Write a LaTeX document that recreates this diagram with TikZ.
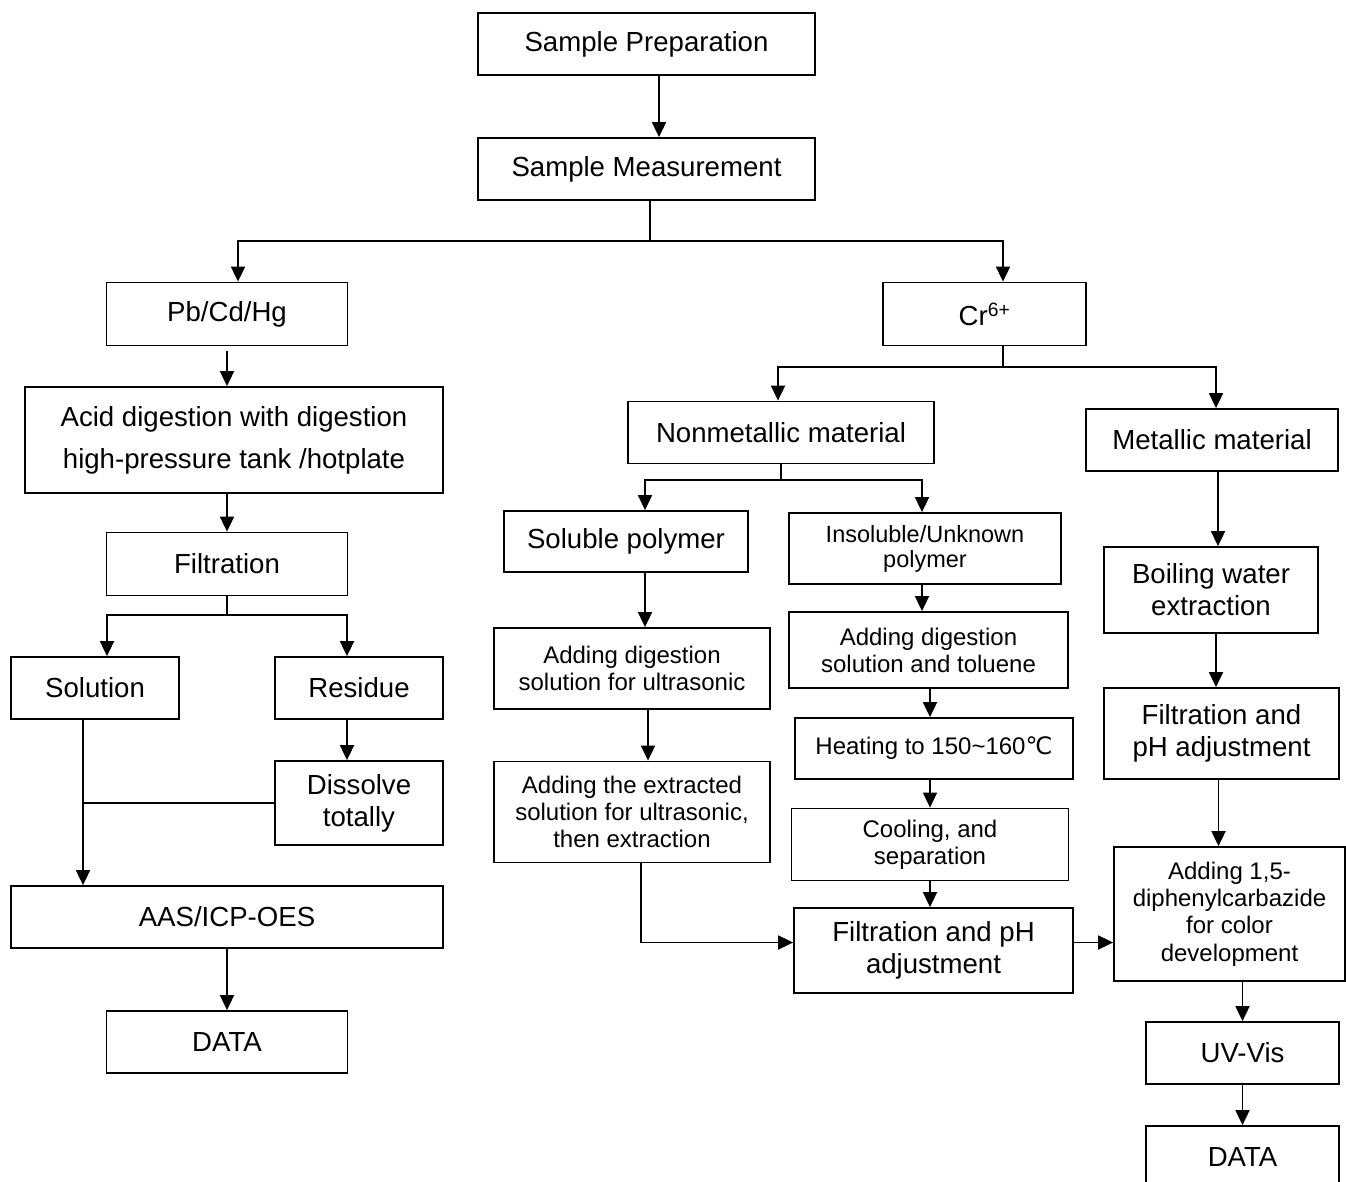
\documentclass[tikz,border=0pt]{standalone}
\usepackage{fontspec}
\setmainfont{Liberation Sans}
\newfontfamily\dejavu{DejaVu Sans}
\usetikzlibrary{arrows.meta}

\begin{document}
\begin{tikzpicture}[x=1pt,y=-1pt,line width=1.8pt,
  box/.style={draw,rectangle,inner sep=0pt,align=center,font=\fontsize{27.6}{32}\selectfont},
  small/.style={font=\fontsize{24}{27}\selectfont},
  sz/.style 2 args={minimum width=#1pt,minimum height=#2pt},
  arr/.style={-{Triangle[length=15pt,width=14pt]}}]
\useasboundingbox (0,0) rectangle (1346,1182);

\node[box,sz={337}{62}] (prep) at (646.5,44) {Sample Preparation};
\node[box,sz={337}{62}] (meas) at (646.5,169) {Sample Measurement};
\node[box,sz={241}{63}] (pb) at (227,314) {Pb/Cd/Hg};
\node[box,sz={203}{63}] (cr) at (984.5,314) {Cr\textsuperscript{6+}};
\node[box,sz={418}{106},font=\fontsize{27.6}{42}\selectfont] (acid) at (234,440) {Acid digestion with digestion\\high-pressure tank /hotplate};
\node[box,sz={241}{63}] (filt) at (227,564) {Filtration};
\node[box,sz={168}{62}] (sol) at (95,688) {Solution};
\node[box,sz={168}{62}] (res) at (359,688) {Residue};
\node[box,sz={168}{84}] (diss) at (359,803) {Dissolve\\totally};
\node[box,sz={432}{62}] (aas) at (227,917) {AAS/ICP-OES};
\node[box,sz={241}{62}] (data) at (227,1042) {DATA};

\node[box,sz={306}{62}] (nonmet) at (781,432.5) {Nonmetallic material};
\node[box,sz={252}{62}] (metal) at (1212,440) {Metallic material};
\node[box,sz={244}{61}] (solpoly) at (626,541.5) {Soluble polymer};
\node[box,small,sz={272}{71},font=\fontsize{23.5}{25}\selectfont] (insol) at (925,548.5) {Insoluble/Unknown\\polymer};
\node[box,small,sz={276}{81}] (adddig) at (632,668.5) {Adding digestion\\solution for ultrasonic};
\node[box,small,sz={279}{76}] (addtol) at (928.5,650) {Adding digestion\\solution and toluene};
\node[box,small,sz={276}{101}] (extr) at (632,812) {Adding the extracted\\solution for ultrasonic,\\then extraction};
\node[box,small,sz={278}{61}] (heat) at (934,748.5) {Heating to 150\textasciitilde160{\dejavu ℃}};
\node[box,small,sz={277}{72}] (cool) at (930,844.5) {Cooling, and\\separation};
\node[box,sz={279}{85}] (filtph) at (933.5,950.5) {Filtration and pH\\adjustment};
\node[box,sz={214}{86}] (boil) at (1211,590) {Boiling water\\extraction};
\node[box,sz={235}{91}] (filtph2) at (1221.5,733.5) {Filtration and\\pH adjustment};
\node[box,small,sz={231}{134},font=\fontsize{24}{27.3}\selectfont] (dpc) at (1229.5,914) {Adding 1,5-\\diphenylcarbazide\\for color\\development};
\node[box,sz={193}{62}] (uv) at (1242.5,1053) {UV-Vis};
\node[box,sz={193}{62}] (data2) at (1242.5,1157) {DATA};

\coordinate (j1) at (650,241);
\coordinate (j2) at (227,615);
\coordinate (j3) at (1003,367);
\coordinate (j4) at (781,480);
\coordinate (s1) at ([xshift=-12]sol.south);

\draw[arr] ([xshift=12.5]prep.south) -- ([xshift=12.5]meas.north);
\draw ([xshift=3.5]meas.south) -- (j1);
\draw[arr] (j1) -| ([xshift=11]pb.north);
\draw[arr] (j1) -| ([xshift=18.5]cr.north);
\draw[arr] ([yshift=-5]pb.south) -- (acid.north -| pb.south);
\draw[arr] (acid.south -| filt.north) -- (filt.north);
\draw (filt.south) -- (j2);
\draw[arr] (j2) -| ([xshift=12]sol.north);
\draw[arr] (j2) -| ([xshift=-12]res.north);
\draw[arr] ([xshift=-12]res.south) -- ([xshift=-12]diss.north);
\draw[arr] (s1) -- (s1 |- aas.north);
\draw (diss.west) -- (diss.west -| s1);
\draw[arr] (aas.south -| data.north) -- (data.north);

\draw ([xshift=18.5]cr.south) -- (j3);
\draw[arr] (j3) -| ([xshift=-3]nonmet.north);
\draw[arr] (j3) -| ([xshift=4]metal.north);
\draw (nonmet.south) -- (j4);
\draw[arr] (j4) -| ([xshift=19]solpoly.north);
\draw[arr] (j4) -| ([xshift=-3]insol.north);
\draw[arr] ([xshift=19]solpoly.south) -- ([xshift=19]solpoly.south |- adddig.north);
\draw[arr] ([xshift=16]adddig.south) -- ([xshift=16]extr.north);
\draw[arr] ([xshift=9]extr.south) |- ([yshift=8]filtph.west);
\draw[arr] ([xshift=-3]insol.south) -- ([xshift=-3]insol.south |- addtol.north);
\draw[arr] ([xshift=1.5]addtol.south) -- ([xshift=1.5]addtol.south |- heat.north);
\draw[arr] (heat.south -| cool.north) -- (cool.north);
\draw[arr] (cool.south) -- (cool.south |- filtph.north);
\draw[arr] ([yshift=8]filtph.east) -- ([yshift=8]filtph.east -| dpc.west);

\draw[arr] ([xshift=6]metal.south) -- ([xshift=6]metal.south |- boil.north);
\draw[arr] ([xshift=5]boil.south) -- ([xshift=5]boil.south |- filtph2.north);
\draw[arr] ([xshift=-3]filtph2.south) -- ([xshift=-3]filtph2.south |- dpc.north);
\draw[arr] (dpc.south -| uv.north) -- (uv.north);
\draw[arr] (uv.south) -- (data2.north);
\end{tikzpicture}
\end{document}
